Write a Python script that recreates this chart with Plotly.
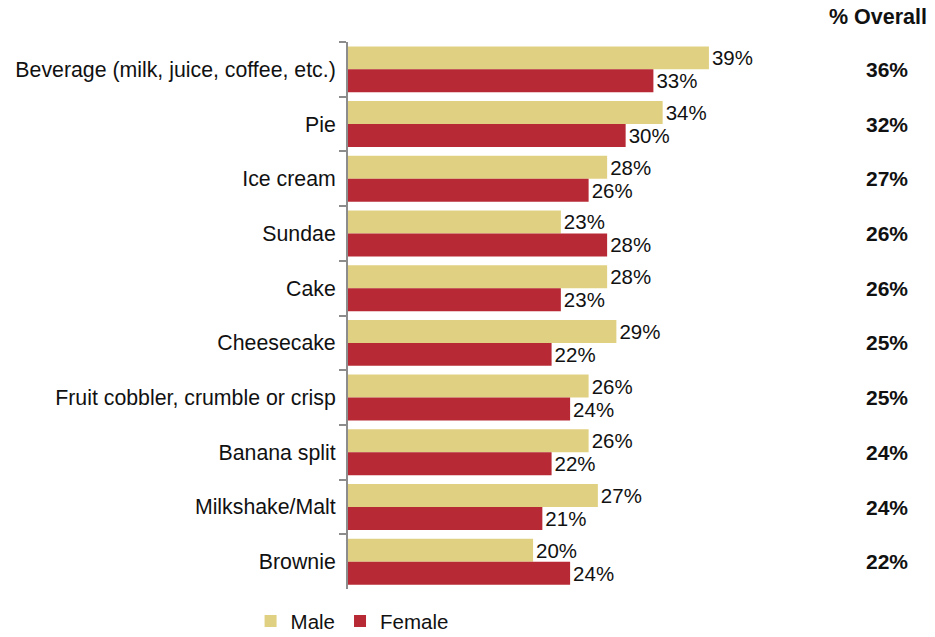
import plotly.graph_objects as go

categories = [
    "Beverage (milk, juice, coffee, etc.)",
    "Pie",
    "Ice cream",
    "Sundae",
    "Cake",
    "Cheesecake",
    "Fruit cobbler, crumble or crisp",
    "Banana split",
    "Milkshake/Malt",
    "Brownie",
]
male = [39, 34, 28, 23, 28, 29, 26, 26, 27, 20]
female = [33, 30, 26, 28, 23, 22, 24, 22, 21, 24]
overall = [36, 32, 27, 26, 26, 25, 25, 24, 24, 22]

FONT = "Liberation Sans, Arial, sans-serif"
MALE_COLOR = "#E0D182"
FEMALE_COLOR = "#B72A35"
SIZE = 20.5

fig = go.Figure()
fig.add_trace(go.Bar(
    y=categories, x=male, name="Male", orientation="h",
    marker=dict(color=MALE_COLOR, line=dict(width=0)),
    text=[f"{v}%" for v in male], textposition="outside",
    textfont=dict(family=FONT, size=SIZE, color="#111"), cliponaxis=False,
))
fig.add_trace(go.Bar(
    y=categories, x=female, name="Female", orientation="h",
    marker=dict(color=FEMALE_COLOR, line=dict(width=0)),
    text=[f"{v}%" for v in female], textposition="outside",
    textfont=dict(family=FONT, size=SIZE, color="#111"), cliponaxis=False,
))

# Overall percentages in a column to the right of the bars
for cat, v in zip(categories, overall):
    fig.add_annotation(
        x=1.058, xref="paper", y=cat, yref="y",
        text=f"<b>{v}%</b>", showarrow=False,
        font=dict(family=FONT, size=21, color="#111"),
        xanchor="center", yanchor="middle",
    )
fig.add_annotation(
    x=1.041, xref="paper", y=1.045, yref="paper", yanchor="middle",
    text="<b>% Overall</b>", showarrow=False,
    font=dict(family=FONT, size=21.5, color="#111"), xanchor="center",
)

fig.update_layout(
    width=935, height=637,
    margin=dict(l=348, r=78, t=42, b=41),
    paper_bgcolor="white", plot_bgcolor="white",
    barmode="group", bargap=0.16, bargroupgap=0,
    font=dict(family=FONT, size=SIZE, color="#111"),
    showlegend=True,
    legend=dict(
        orientation="h", x=0.268, xanchor="left", xref="container",
        y=0.025, yanchor="middle", yref="container",
        font=dict(family=FONT, size=SIZE, color="#111"),
        itemwidth=30, tracegroupgap=0,
    ),
    xaxis=dict(
        range=[0, 55], visible=False, showgrid=False, zeroline=False,
    ),
    yaxis=dict(
        type="category", autorange="reversed",
        showline=True, linecolor="#8C8C8C", linewidth=2,
        ticks="outside", tickson="boundaries", ticklen=7,
        tickcolor="#8C8C8C", tickwidth=2,
        ticklabelstandoff=6,
        tickfont=dict(family=FONT, size=21.3, color="#111"),
        showgrid=False, zeroline=False,
    ),
)

fig.write_html("out.html")
